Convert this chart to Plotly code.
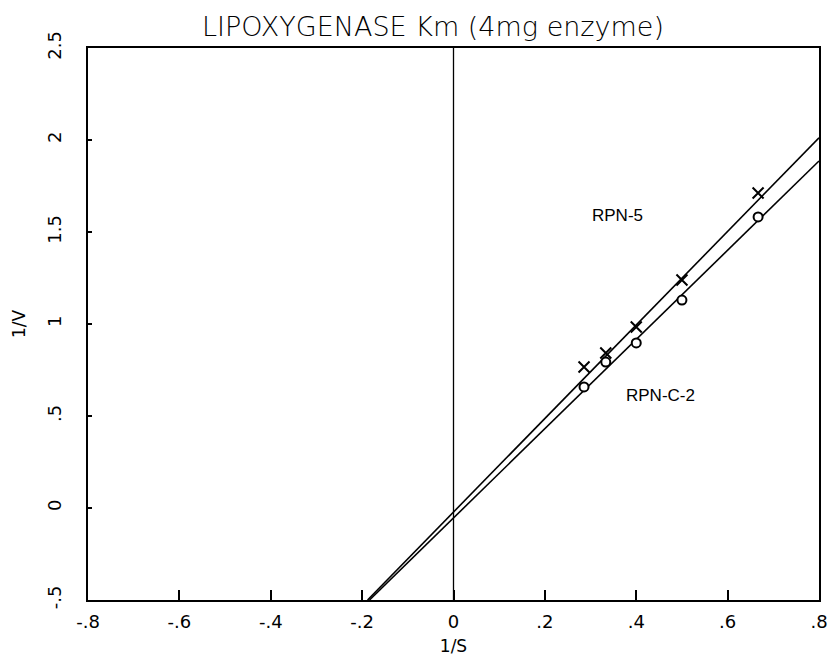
import plotly.graph_objects as go

# Data
inv_s = [0.2857, 0.3333, 0.4, 0.5, 0.6667]
inv_v_rpn5 = [0.766, 0.842, 0.984, 1.239, 1.712]     # "X" points
inv_v_rpnc2 = [0.658, 0.793, 0.897, 1.130, 1.582]    # "O" points

# Fitted lines (slope, intercept)
fit_rpn5 = (2.542, -0.022)
fit_rpnc2 = (2.425, -0.054)

x_tickvals = [-0.8, -0.6, -0.4, -0.2, 0, 0.2, 0.4, 0.6, 0.8]
x_ticktext = ["-.8", "-.6", "-.4", "-.2", "0", ".2", ".4", ".6", ".8"]
y_tickvals = [-0.5, 0, 0.5, 1, 1.5, 2, 2.5]
y_ticktext = ["-.5", "0", ".5", "1", "1.5", "2", "2.5"]

XMIN, XMAX, YMIN, YMAX = -0.8, 0.8, -0.5, 2.5


def line_pts(fit):
    m, b = fit
    x0 = (YMIN - b) / m
    return [x0, XMAX], [m * x0 + b, m * XMAX + b]


fig = go.Figure()

# zero line
fig.add_trace(go.Scatter(x=[0, 0], y=[YMIN, YMAX], mode="lines",
                         line=dict(color="black", width=1.3), hoverinfo="skip"))

for fit in (fit_rpn5, fit_rpnc2):
    lx, ly = line_pts(fit)
    fig.add_trace(go.Scatter(x=lx, y=ly, mode="lines",
                             line=dict(color="black", width=1.6), hoverinfo="skip"))

# white masks behind the O markers (gaps in the line)
fig.add_trace(go.Scatter(x=inv_s, y=inv_v_rpnc2, mode="markers",
                         marker=dict(color="white", size=9, line=dict(width=0)),
                         hoverinfo="skip"))

fig.add_trace(go.Scatter(x=inv_s, y=inv_v_rpn5, mode="markers", name="RPN-5",
                         marker=dict(symbol="x-thin", size=11, color="black",
                                     line=dict(color="black", width=2))))
fig.add_trace(go.Scatter(x=inv_s, y=inv_v_rpnc2, mode="markers", name="RPN-C-2",
                         marker=dict(symbol="circle-open", size=9, color="black",
                                     line=dict(color="black", width=2))))

fig.add_annotation(x=0.358, y=1.587, text="RPN-5", showarrow=False,
                   font=dict(family="Liberation Sans", size=17, color="black"))
fig.add_annotation(x=0.454, y=0.609, text="RPN-C-2", showarrow=False,
                   font=dict(family="Liberation Sans", size=17, color="black"))

fig.update_layout(
    width=839, height=660,
    margin=dict(l=88, r=20, t=48, b=60),
    paper_bgcolor="white", plot_bgcolor="white",
    showlegend=False,
    title=dict(text="LIPOXYGENASE Km (4mg enzyme)", x=433 / 839, xanchor="center",
               y=1 - 27 / 660, yanchor="middle",
               font=dict(family="DejaVu Sans", size=27, color="black", weight=300)),
    xaxis=dict(range=[XMIN, XMAX], tickvals=x_tickvals, ticktext=x_ticktext,
               ticks="inside", ticklen=10, tickwidth=2, tickcolor="black",
               ticklabelstandoff=4, automargin=False,
               showline=True, linecolor="black", linewidth=2, mirror=True,
               showgrid=False, zeroline=False,
               tickfont=dict(family="DejaVu Sans", size=18, color="black"),
               title=dict(text="1/S", standoff=10,
                          font=dict(family="DejaVu Sans", size=17, color="black"))),
    yaxis=dict(range=[YMIN, YMAX], tickvals=y_tickvals, ticktext=y_ticktext,
               ticks="inside", ticklen=4, tickwidth=2, tickcolor="black",
               tickangle=-90, ticklabelstandoff=18, automargin=False,
               showline=True, linecolor="black", linewidth=2, mirror=True,
               showgrid=False, zeroline=False,
               tickfont=dict(family="DejaVu Sans", size=18, color="black"),
               title=dict(text="1/V", standoff=14,
                          font=dict(family="DejaVu Sans", size=17, color="black"))),
)

fig.write_html("out.html")
